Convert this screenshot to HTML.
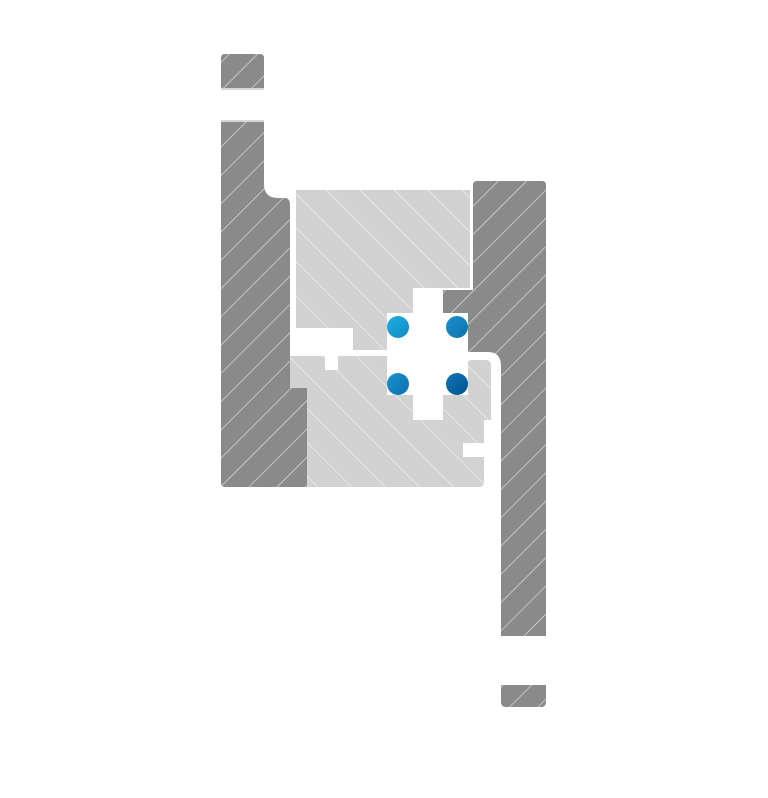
<!DOCTYPE html>
<html><head><style>html,body{margin:0;padding:0;background:#fff}svg{display:block}</style></head>
<body>
<svg width="768" height="798" viewBox="0 0 768 798" xmlns="http://www.w3.org/2000/svg">
<defs>
<pattern id="hd" patternUnits="userSpaceOnUse" width="20" height="20" patternTransform="rotate(45)">
<rect width="20" height="20" fill="#8a8a8a"/><line x1="0" y1="0" x2="0" y2="20" stroke="#e8e8e8" stroke-width="1.2"/></pattern>
<pattern id="hl" patternUnits="userSpaceOnUse" width="24" height="24" patternTransform="rotate(-45)">
<rect width="24" height="24" fill="#d2d2d2"/><line x1="0" y1="0" x2="0" y2="24" stroke="#f4f4f4" stroke-width="1.2"/></pattern>
<linearGradient id="b1" x1="0" y1="0" x2="1" y2="1"><stop offset="0" stop-color="#1fb0e0"/><stop offset="1" stop-color="#1088c4"/></linearGradient>
<linearGradient id="b2" x1="0" y1="0" x2="1" y2="1"><stop offset="0" stop-color="#1a92cc"/><stop offset="1" stop-color="#0d70ae"/></linearGradient>
<linearGradient id="b3" x1="0" y1="0" x2="1" y2="1"><stop offset="0" stop-color="#0d78b6"/><stop offset="1" stop-color="#04508e"/></linearGradient>
</defs>
<path d="M225,54 H260 Q264,54 264,58 V88 H221 V58 Q221,54 225,54 Z" fill="url(#hd)"/>
<rect x="221" y="88" width="43" height="2" fill="#d8d8d8"/>
<rect x="221" y="120" width="43" height="2" fill="#d8d8d8"/>
<path d="M221,122 H264 V184 Q264,198 278,198 H285 Q290,198 290,205 V388 H307 V487 H225 Q221,487 221,483 Z" fill="url(#hd)"/>
<path d="M296,190 H470 V288 H413 V313 H387 V350 H353 V328 H296 Z" fill="url(#hl)"/>
<path d="M290,356 H325 V370 H338 V356 H468 V362 Q468,360 474,360 H486 Q491,360 491,366 V420 H484 V443 H463 V457 H484 V482 Q484,487 479,487 H307 V388 H290 Z" fill="url(#hl)"/>
<path d="M477,181 H542 Q546,181 546,185 V636 H501 V366 Q501,352 488,352 H468 V340 H442 V290 H473 V185 Q473,181 477,181 Z" fill="url(#hd)"/>
<path d="M501,685 H546 V702 Q546,707 541,707 H506 Q501,707 501,702 Z" fill="url(#hd)"/>
<rect x="413" y="289" width="30" height="131" fill="#fff"/>
<rect x="387" y="313" width="81" height="82" fill="#fff"/>
<circle cx="398" cy="327" r="11" fill="url(#b1)"/>
<circle cx="457" cy="327" r="11" fill="url(#b2)"/>
<circle cx="398" cy="384" r="11" fill="url(#b2)"/>
<circle cx="457" cy="384" r="11" fill="url(#b3)"/>
</svg>
</body></html>
